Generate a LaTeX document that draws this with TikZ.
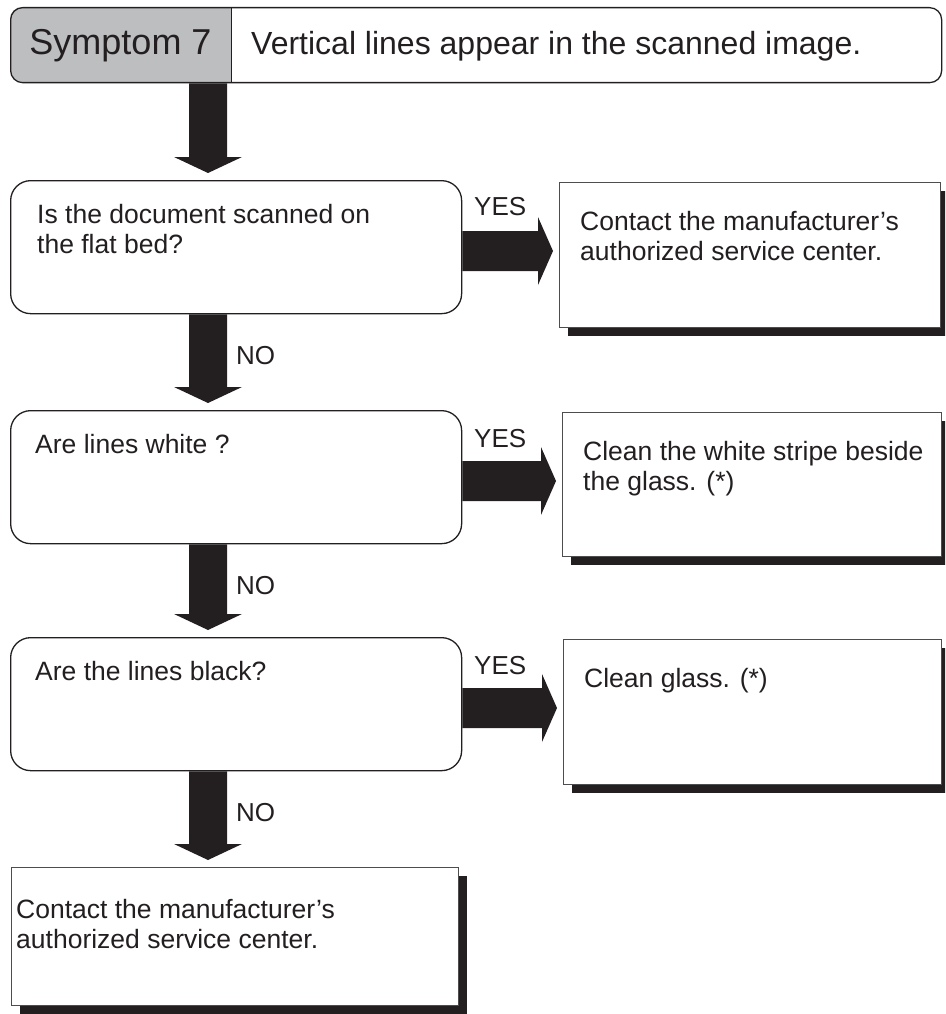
\documentclass[tikz,border=0pt]{standalone}
\usepackage{fontspec}
\setmainfont{Liberation Sans}
\usetikzlibrary{calc,shadows}
\definecolor{ink}{HTML}{231F20}
\definecolor{hdrgray}{HTML}{BCBEC0}
\definecolor{boxline}{HTML}{4D4D4F}
\newcommand{\twolines}[2]{\begin{tabular}[t]{@{}l@{}}#1\\#2\end{tabular}}
% vertical block arrow: #1 from node, #2 to node, #3 name prefix
\newcommand{\varrow}[3]{%
  \coordinate (#3s) at (#1.south -| vx);
  \coordinate (#3e) at ($(#2.north -| vx)+(0,-7)$);
  \fill[ink] ($(#3s)+(-19,0)$) -- ($(#3s)+(19,0)$) -- ($(#3e)+(19,-16)$) -- ($(#3e)+(34,-16)$)
    -- (#3e) -- ($(#3e)+(-34,-16)$) -- ($(#3e)+(-19,-16)$) -- cycle;}
% horizontal block arrow: #1 from node, #2 to node, #3 name prefix
\newcommand{\harrow}[3]{%
  \coordinate (#3s) at ($(#1.north east)+(0,71)$);
  \coordinate (#3e) at ($(#3s -| #2.west)+(-6,0)$);
  \fill[ink] ($(#3s)+(0,-20)$) -- ($(#3e)+(-15,-20)$) -- ($(#3e)+(-15,-34)$) -- (#3e)
    -- ($(#3e)+(-15,34)$) -- ($(#3e)+(-15,20)$) -- ($(#3s)+(0,20)$) -- cycle;}
\begin{document}
\begin{tikzpicture}[x=1pt,y=-1pt,
  decbox/.style={draw=ink, line width=1.3pt, rounded corners=20pt, fill=white,
    minimum width=451pt, minimum height=133pt, anchor=north west, inner sep=0pt},
  resbox/.style={draw=boxline, line width=1.2pt, fill=white, anchor=north west, inner sep=0pt,
    drop shadow={opacity=1, fill=ink, shadow xshift=8pt, shadow yshift=-8pt}},
  body/.style={inner sep=0pt, anchor=base west, text=ink, font=\fontsize{26.5}{30}\selectfont},
  lbl/.style={inner sep=0pt, anchor=base west, text=ink, font=\fontsize{26}{30}\selectfont}]
\useasboundingbox (0,0) rectangle (945,1014);
\clip (0,0) rectangle (945,1014);
\coordinate (vx) at (208,0);
\coordinate (div) at (231,0);
% header
\begin{scope}
  \clip[rounded corners=12pt] (10,7) rectangle (941,82);
  \fill[hdrgray] (10,7) rectangle (231,82);
\end{scope}
\node[draw=ink, line width=1.3pt, rounded corners=12pt, minimum width=931pt, minimum height=75pt,
  anchor=north west, inner sep=0pt] (hdr) at (10,7) {};
\draw[ink, line width=1pt] (hdr.north -| div) -- (hdr.south -| div);
\node[inner sep=0pt, anchor=base, text=ink, font=\fontsize{36}{40}\selectfont] (sym) at (120.5,55) {Symptom 7};
\node[inner sep=0pt, anchor=base west, text=ink, font=\fontsize{32}{36}\selectfont] (hdrtxt) at (251,55)
  {Vertical lines appear in the scanned image.};
% decision boxes
\node[decbox] (d1) at (10,180) {};
\node[decbox] (d2) at (10,410) {};
\node[decbox] (d3) at (10,637) {};
% result boxes
\node[resbox, minimum width=381pt, minimum height=145pt] (r1) at (559,182) {};
\node[resbox, minimum width=379pt, minimum height=144pt] (r2) at (562,412) {};
\node[resbox, minimum width=378pt, minimum height=145pt] (r3) at (563,639) {};
\node[resbox, minimum width=447pt, minimum height=138pt] (f) at (11,867) {};
% arrows
\varrow{hdr}{d1}{a0}
\varrow{d1}{d2}{a1}
\varrow{d2}{d3}{a2}
\varrow{d3}{f}{a3}
\harrow{d1}{r1}{h1}
\harrow{d2}{r2}{h2}
\harrow{d3}{r3}{h3}
% texts
\node[body] (d1t) at (37,223) {\twolines{Is the document scanned on}{the flat bed?}};
\node[body] (d2t) at (35,453) {Are lines white ?};
\node[body] (d3t) at (35,680) {Are the lines black?};
\node[body] (r1t) at (580,230) {\twolines{Contact the manufacturer’s}{authorized service center.}};
\node[body] (r2t) at (583,460) {\twolines{Clean the white stripe beside}{the glass. (*)}};
\node[body] (r3t) at (584,687) {Clean glass. (*)};
\node[body] (ft) at (16,918) {\twolines{Contact the manufacturer’s}{authorized service center.}};
% labels
\node[lbl] (y1) at (474,215) {YES};
\node[lbl] (y2) at (474,447) {YES};
\node[lbl] (y3) at (474,674) {YES};
\node[lbl] (n1) at (236,364) {NO};
\node[lbl] (n2) at (236,594) {NO};
\node[lbl] (n3) at (236,821) {NO};
\end{tikzpicture}
\end{document}
